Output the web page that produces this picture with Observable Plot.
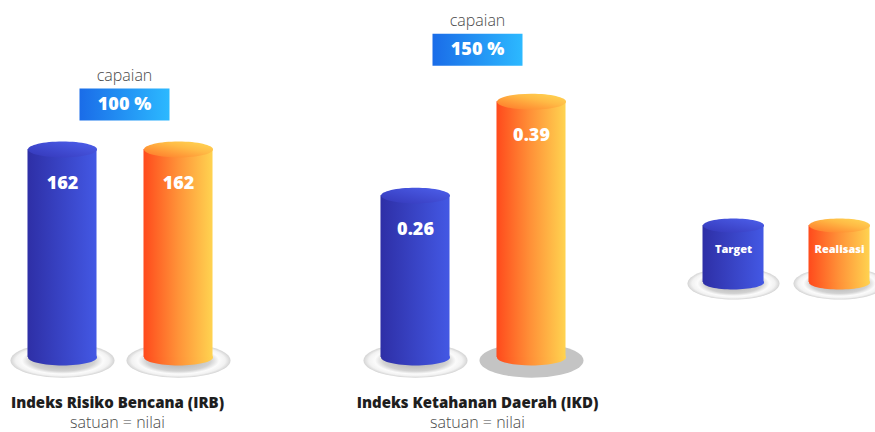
<!DOCTYPE html>
<html>
<head>
<meta charset="utf-8">
<script src="https://cdn.jsdelivr.net/npm/d3@7"></script>
<script src="https://cdn.jsdelivr.net/npm/@observablehq/plot@0.6"></script>
<style>
  html, body { margin: 0; padding: 0; background: #ffffff; }
  #root { position: relative; width: 875px; height: 432px; overflow: hidden; font-family: "Open Sans", sans-serif; }
  #root > div.p { position: absolute; top: 0; }
  #root svg { overflow: visible; max-width: none !important; }
</style>
</head>
<body>
<div id="root"></div>
<script>
// ---- data ----
const groups = ["Indeks Risiko Bencana (IRB)", "Indeks Ketahanan Daerah (IKD)"];
const groupUnits = ["satuan = nilai", "satuan = nilai"];
const series = ["Target", "Realisasi"];
const targetValues = [162, 0.26];
const realisasiValues = [162, 0.39];
const capaianLabels = ["100 %", "150 %"];
const capaianTitle = "capaian";

// ---- gradients ----
const root = document.getElementById("root");
root.insertAdjacentHTML("beforeend", `
<svg width="0" height="0" style="position:absolute">
  <defs>
    <linearGradient id="blueBody" x1="0" y1="0" x2="1" y2="0">
      <stop offset="0" stop-color="#2e2fa6"/><stop offset="1" stop-color="#4358e4"/>
    </linearGradient>
    <linearGradient id="blueTop" x1="0" y1="1" x2="1" y2="0">
      <stop offset="0" stop-color="#3437b8"/><stop offset="1" stop-color="#4d60ec"/>
    </linearGradient>
    <linearGradient id="orangeBody" x1="0" y1="0" x2="1" y2="0">
      <stop offset="0" stop-color="#ff4a1c"/><stop offset="0.5" stop-color="#ff9238"/><stop offset="1" stop-color="#ffd350"/>
    </linearGradient>
    <linearGradient id="orangeTop" x1="0" y1="1" x2="1" y2="0">
      <stop offset="0" stop-color="#ff7428"/><stop offset="0.6" stop-color="#ffba45"/><stop offset="1" stop-color="#ffd955"/>
    </linearGradient>
    <linearGradient id="badge" x1="0" y1="0" x2="1" y2="0">
      <stop offset="0" stop-color="#1a6ce8"/><stop offset="1" stop-color="#2cb9ff"/>
    </linearGradient>
    <radialGradient id="plate" cx="0.5" cy="0.5" r="0.5">
      <stop offset="0" stop-color="#a9a9a9"/>
      <stop offset="0.62" stop-color="#d2d2d2"/>
      <stop offset="0.78" stop-color="#fbfbfb"/>
      <stop offset="0.9" stop-color="#f2f2f2"/>
      <stop offset="1" stop-color="#d4d4d4"/>
    </radialGradient>
  </defs>
</svg>`);

const bodyFill = {Target: "url(#blueBody)", Realisasi: "url(#orangeBody)"};
const topFill = {Target: "url(#blueTop)", Realisasi: "url(#orangeTop)"};

function ellipseSymbol(ratio) {
  return {
    draw(ctx, size) {
      const rx = Math.sqrt(size / Math.PI), ry = rx * ratio, k = 0.5522847498;
      ctx.moveTo(rx, 0);
      ctx.bezierCurveTo(rx, ry * k, rx * k, ry, 0, ry);
      ctx.bezierCurveTo(-rx * k, ry, -rx, ry * k, -rx, 0);
      ctx.bezierCurveTo(-rx, -ry * k, -rx * k, -ry, 0, -ry);
      ctx.bezierCurveTo(rx * k, -ry, rx, -ry * k, rx, 0);
      ctx.closePath();
    }
  };
}
function rectSymbol(w, h) {
  return {
    draw(ctx) {
      ctx.moveTo(-w / 2, -h / 2);
      ctx.lineTo(w / 2, -h / 2);
      ctx.lineTo(w / 2, h / 2);
      ctx.lineTo(-w / 2, h / 2);
      ctx.closePath();
    }
  };
}
const capEllipse = ellipseSymbol(0.23);
const plateEllipse = ellipseSymbol(0.33);
const legendPlate = ellipseSymbol(0.35);
const badgeRect = rectSymbol(90, 32);

function place(svg, left, width) {
  const wrap = document.createElement("div");
  wrap.className = "p";
  wrap.style.left = left + "px";
  wrap.style.width = width + "px";
  wrap.appendChild(svg);
  root.appendChild(wrap);
}

function groupPlot(gi, left, yDomain, badgeDy, labelDx) {
  const base = yDomain[0];
  const rows = series.map((s, si) => ({
    series: s,
    value: si === 0 ? targetValues[gi] : realisasiValues[gi]
  }));
  const top = [{label: capaianLabels[gi], value: d3.max(rows, d => d.value)}];
  const svg = Plot.plot({
    width: 244, height: 432,
    marginLeft: 4, marginRight: 8, marginTop: 0, marginBottom: 75,
    x: {domain: series, paddingInner: 0.405, paddingOuter: 0.2025, round: false, axis: null},
    y: {domain: yDomain, axis: null},
    color: {type: "identity"},
    style: {fontFamily: "'Open Sans', sans-serif", background: "transparent", overflow: "visible"},
    marks: [
      // plates
      Plot.dot(rows, {x: "series", y: () => base, dy: 3, r: 52, symbol: plateEllipse, stroke: null,
        fill: d => (gi === 1 && d.series === "Realisasi") ? "#c4c4c4" : "url(#plate)"}),
      // cylinder bottom
      Plot.dot(rows, {x: "series", y: () => base, r: 34.5, symbol: capEllipse, stroke: null, fill: d => bodyFill[d.series]}),
      // cylinder body
      Plot.barY(rows, {x: "series", y1: () => base, y2: "value", fill: d => bodyFill[d.series], inset: 0}),
      // cylinder top
      Plot.dot(rows, {x: "series", y: "value", r: 34.5, symbol: capEllipse, stroke: null, fill: d => topFill[d.series]}),
      // values
      Plot.text(rows, {x: "series", y: "value", text: d => String(d.value), dy: 34,
        fill: "#ffffff", fontSize: 18, fontWeight: 800}),
      // capaian badge
      Plot.dot(top, {y: "value", frameAnchor: "middle", dx: 4, dy: badgeDy, r: 10, symbol: badgeRect, stroke: null, fill: "url(#badge)"}),
      Plot.text(top, {y: "value", frameAnchor: "middle", dx: 4, dy: badgeDy, text: "label",
        fill: "#ffffff", fontSize: 18, fontWeight: 800}),
      Plot.text(top, {y: "value", frameAnchor: "middle", dx: 4, dy: badgeDy - 29, text: () => capaianTitle,
        fill: "#4a4a4a", fontSize: 16, fontWeight: 300}),
      // category labels
      Plot.text([groups[gi]], {frameAnchor: "bottom", text: d => d, dx: labelDx, dy: 50,
        fill: "#1e1e1e", fontSize: 15, fontWeight: 800}),
      Plot.text([groupUnits[gi]], {frameAnchor: "bottom", text: d => d, dx: labelDx, dy: 70,
        fill: "#4a4a4a", fontSize: 16, fontWeight: 300})
    ]
  });
  place(svg, left, 244);
}

groupPlot(0, 0, [0, 278], -45, -3);
groupPlot(1, 353, [0.036, 0.53], -52, 4);

// legend
(function legend() {
  const rows = series.map(s => ({series: s, value: 1}));
  const svg = Plot.plot({
    width: 220, height: 432,
    marginLeft: 4, marginRight: 4, marginTop: 225, marginBottom: 150,
    x: {domain: series, paddingInner: 0.4245, paddingOuter: 0.2123, round: false, axis: null},
    y: {domain: [0, 1], axis: null},
    color: {type: "identity"},
    style: {fontFamily: "'Open Sans', sans-serif", background: "transparent", overflow: "visible"},
    marks: [
      Plot.dot(rows, {x: "series", y: () => 0, dy: 1, r: 46, symbol: legendPlate, stroke: null, fill: "url(#plate)"}),
      Plot.dot(rows, {x: "series", y: () => 0, r: 30.5, symbol: capEllipse, stroke: null, fill: d => bodyFill[d.series]}),
      Plot.barY(rows, {x: "series", y1: () => 0, y2: "value", fill: d => bodyFill[d.series], inset: 0}),
      Plot.dot(rows, {x: "series", y: "value", r: 30.5, symbol: capEllipse, stroke: null, fill: d => topFill[d.series]}),
      Plot.text(rows, {x: "series", y: "value", text: "series", dy: 24, fill: "#ffffff", fontSize: 11, fontWeight: 800})
    ]
  });
  place(svg, 676, 220);
})();
</script>
</body>
</html>
